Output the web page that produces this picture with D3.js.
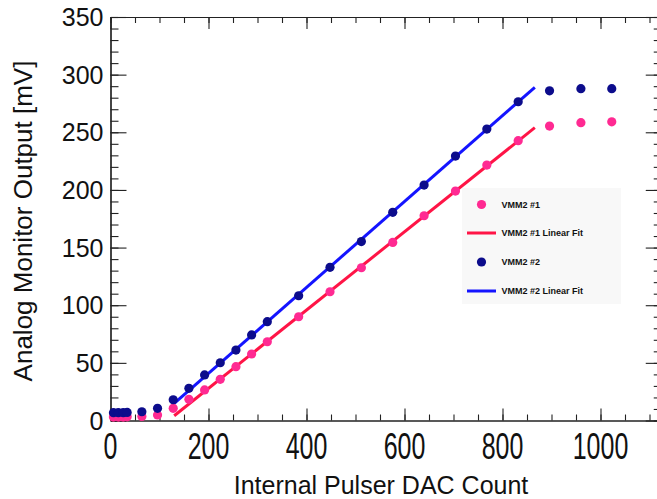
<!DOCTYPE html>
<html><head><meta charset="utf-8">
<script src="https://cdn.jsdelivr.net/npm/d3@7"></script>
<style>
html,body{margin:0;padding:0;background:#fff;}
svg{display:block;font-family:"Liberation Sans",Arial,Helvetica,sans-serif;}
</style></head>
<body><svg id="c" width="657" height="499"></svg>
<script>
// ---- data ----
const dacCounts = [6, 16, 26, 34, 64, 96, 128, 160, 192, 224, 256, 288, 320, 384, 448, 512, 576, 640, 704, 768, 832, 896, 960, 1023];
const vmm1 = [3.0, 3.0, 3.0, 3.2, 3.5, 4.8, 10.6, 18.4, 26.5, 35.7, 46.7, 57.7, 68.3, 90.0, 111.7, 132.5, 154.5, 177.6, 199.0, 221.6, 242.7, 255.4, 258.3, 259.1];
const vmm2 = [6.8, 6.8, 6.8, 7.0, 7.6, 10.6, 18.0, 27.9, 39.5, 50.1, 61.1, 74.2, 85.7, 108.2, 132.9, 155.2, 180.6, 204.2, 229.4, 252.8, 276.5, 286.0, 287.8, 287.8];
const fit1X = [130, 866];
const fit1Y = [4.1, 254.0];
const fit2X = [130, 866];
const fit2Y = [14.9, 289.0];
const xTicks = [0, 200, 400, 600, 800, 1000];
const yTicks = [0, 50, 100, 150, 200, 250, 300, 350];
const legendLabels = ["VMM2 #1", "VMM2 #1 Linear Fit", "VMM2 #2", "VMM2 #2 Linear Fit"];
const xTitle = "Internal Pulser DAC Count";
const yTitle = "Analog Monitor Output [mV]";

const svg = d3.select("#c");
const L = 110.5, R = 661.75, T = 17, B = 420.5;
const x = d3.scaleLinear().domain([0, 1125]).range([L, R]);
const y = d3.scaleLinear().domain([0, 350]).range([B, T]);

const pink = "#ff2a92", red = "#ff1446", navy = "#0c0c8c", blue = "#1414ff";

// axes
const axisCol = "#222";
function styleAxis(g){ g.select(".domain").attr("stroke", axisCol).attr("stroke-width", 1.2); g.selectAll(".tick line").attr("stroke", axisCol).attr("stroke-width", 1.1); g.selectAll("text").remove(); }
const xMinor = d3.range(0, 1126, 50);
const yMinor = d3.range(0, 351, 10);

// bottom
svg.append("g").attr("transform", `translate(0,${B})`).call(d3.axisTop(x).tickValues(xMinor).tickSize(6).tickSizeOuter(0)).call(styleAxis);
svg.append("g").attr("transform", `translate(0,${B})`).call(d3.axisTop(x).tickValues(xTicks).tickSize(12).tickSizeOuter(0)).call(styleAxis);
// top
svg.append("g").attr("transform", `translate(0,${T})`).call(d3.axisBottom(x).tickValues(xMinor).tickSize(6).tickSizeOuter(0)).call(styleAxis);
svg.append("g").attr("transform", `translate(0,${T})`).call(d3.axisBottom(x).tickValues(xTicks).tickSize(12).tickSizeOuter(0)).call(styleAxis);
// left
svg.append("g").attr("transform", `translate(${L},0)`).call(d3.axisRight(y).tickValues(yMinor).tickSize(8).tickSizeOuter(0)).call(styleAxis);
svg.append("g").attr("transform", `translate(${L},0)`).call(d3.axisRight(y).tickValues(yTicks).tickSize(16).tickSizeOuter(0)).call(styleAxis);
// right
svg.append("g").attr("transform", `translate(${R},0)`).call(d3.axisLeft(y).tickValues(yMinor).tickSize(8).tickSizeOuter(0)).call(styleAxis);
svg.append("g").attr("transform", `translate(${R},0)`).call(d3.axisLeft(y).tickValues(yTicks).tickSize(16).tickSizeOuter(0)).call(styleAxis);

// tick labels
svg.append("g").selectAll("text").data(yTicks).join("text")
  .attr("x", 103.5).attr("y", d => y(d) + 9)
  .attr("text-anchor", "end").attr("font-size", 25).attr("fill", "#111").text(d => d);
svg.append("g").selectAll("text").data(xTicks).join("text")
  .attr("transform", d => `translate(${x(d)},458.5) scale(1,1.5)`)
  .attr("text-anchor", "middle").attr("font-size", 25).attr("fill", "#111").text(d => d);

// titles
svg.append("text").attr("x", 381).attr("y", 494).attr("text-anchor", "middle")
  .attr("font-size", 25).attr("fill", "#111").text(xTitle);
svg.append("text").attr("transform", "translate(32,221) rotate(-90)").attr("text-anchor", "middle")
  .attr("font-size", 26).attr("fill", "#111").text(yTitle);

// clip
svg.append("clipPath").attr("id", "clip").append("rect").attr("x", L - 6).attr("y", T).attr("width", R - L + 6).attr("height", B - T + 6);
const plot = svg.append("g").attr("clip-path", "url(#clip)");

const line = d3.line().x(d => x(d[0])).y(d => y(d[1]));
plot.append("path").datum(fit1X.map((v, i) => [v, fit1Y[i]])).attr("d", line).attr("fill", "none").attr("stroke", red).attr("stroke-width", 3);
plot.append("path").datum(fit2X.map((v, i) => [v, fit2Y[i]])).attr("d", line).attr("fill", "none").attr("stroke", blue).attr("stroke-width", 3);

plot.append("g").selectAll("circle").data(dacCounts.map((v, i) => [v, vmm1[i]])).join("circle")
  .attr("cx", d => x(d[0])).attr("cy", d => y(d[1])).attr("r", 4.6).attr("fill", pink);
plot.append("g").selectAll("circle").data(dacCounts.map((v, i) => [v, vmm2[i]])).join("circle")
  .attr("cx", d => x(d[0])).attr("cy", d => y(d[1])).attr("r", 4.6).attr("fill", navy);

// legend
const lg = svg.append("g");
lg.append("rect").attr("x", 462).attr("y", 188).attr("width", 159).attr("height", 116).attr("fill", "#f8f8f8");
const rowsY = [204.5, 233, 262, 291];
const kinds = ["pt", "ln", "pt", "ln"];
const cols = [pink, red, navy, blue];
legendLabels.forEach((t, i) => {
  if (kinds[i] === "pt") lg.append("circle").attr("cx", 481.5).attr("cy", rowsY[i]).attr("r", 4.6).attr("fill", cols[i]);
  else lg.append("line").attr("x1", 467).attr("x2", 496).attr("y1", rowsY[i]).attr("y2", rowsY[i]).attr("stroke", cols[i]).attr("stroke-width", 3);
  lg.append("text").attr("x", 501.5).attr("y", rowsY[i] + 3.2).attr("font-size", 9).attr("font-weight", "bold").attr("fill", "#111").text(t);
});
</script></body></html>
